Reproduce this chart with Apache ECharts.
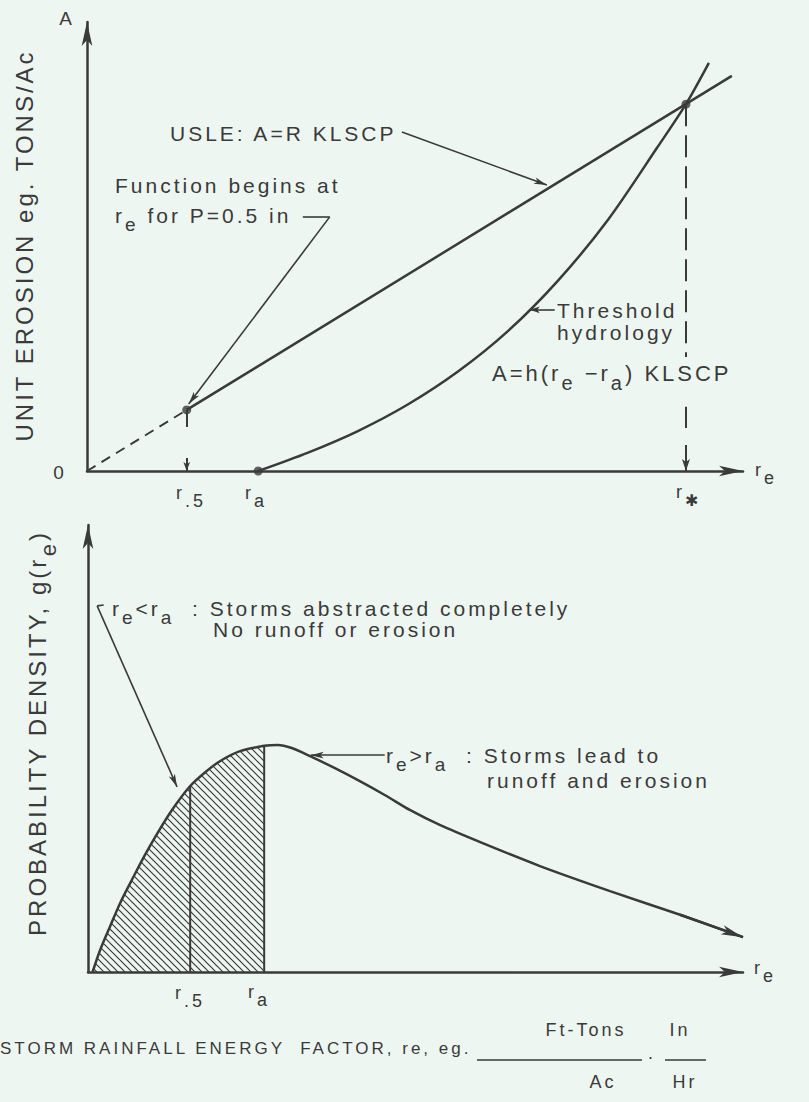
<!DOCTYPE html>
<html>
<head>
<meta charset="utf-8">
<script src="https://cdn.jsdelivr.net/npm/echarts@6/dist/echarts.min.js"></script>
<style>
  html, body { margin:0; padding:0; background:#eef6f2; }
  #main { width:809px; height:1102px; }
  #main text { letter-spacing: 3px; white-space: pre; }
</style>
</head>
<body>
<div id="main"></div>
<script>
// ---------------- values ----------------
// Both panels use a schematic r_e scale (0 = origin, 100 = arrow tip)
// and a schematic vertical scale (0 = axis, 100 = arrow tip).

// Upper panel: USLE straight line (dashed below r.5, solid above)
const usleX = [0, 15.2, 98.3];
const usleY = [0, 13.6, 88.0];
// Upper panel: threshold-hydrology curve A = h(re - ra) KLSCP
const thresholdX = [26.1, 33.7, 41.3, 48.9, 56.6, 64.2, 71.8, 79.4, 87.0, 91.3, 94.8];
const thresholdY = [0, 4.1, 8.9, 14.8, 22.2, 31.2, 42.4, 55.9, 72.2, 81.7, 90.9];
// Upper panel: special r_e values (r.5, ra, r*)
const topR = { half: 15.2, a: 26.1, star: 91.3 };
// Upper panel: annotation leaders / guides (data units)
const topUsleLeader   = [[48.0, 75.5], [70.1, 63.7]];
const topFuncLeader   = [[32.9, 56.6], [37.0, 56.6], [15.5, 14.9]];
const topThreshLeader = [[71.3, 35.9], [67.5, 35.9]];
const topHalfStem     = [[15.2, 13.6], [15.2, 9.8]];
const topHalfArrow    = [[15.2, 2.9], [15.2, 0]];
const topStarUpper    = [[91.3, 81.7], [91.3, 25.4]];
const topStarLower    = [[91.3, 14.3], [91.3, 9.6]];
const topStarArrow    = [[91.3, 5.8], [91.3, 0]];

// Lower panel: probability density g(r_e)
const densityX = [0.7, 1.8, 3.4, 4.9, 6.7, 8.7, 10.7, 12.8, 15.6, 17.9, 20.2, 23.2, 26.9, 29.0, 31.1, 33.9, 37.7, 41.5, 45.3, 49.2, 53.7, 59.8, 69.0, 79.7, 90.4, 100];
const densityY = [0, 4.7, 10.3, 15.4, 20.6, 26.2, 31.3, 36.2, 41.6, 44.7, 47.2, 49.4, 50.6, 50.8, 50.1, 48.3, 45.6, 42.7, 39.6, 36.2, 32.9, 29.1, 23.7, 18.1, 12.8, 7.8];
// Lower panel: special r_e values (r.5, ra)
const lowR = { half: 15.6, a: 26.9 };
// Lower panel: annotation leaders (data units)
const lowBelowLeader = [[2.4, 82.1], [1.4, 81.9], [13.6, 41.4]];
const lowAboveLeader = [[45.3, 48.5], [34.0, 48.5]];
const lowTailArrow   = [[90.4, 12.8], [100, 7.8]];

// ---------------- styling ----------------
const INK = '#3a3a3a';
const BG = '#eef6f2';
const FONT = "'Liberation Sans', Arial, Helvetica, sans-serif";
const LS = 3; // letter spacing applied to svg text by CSS

function pts(xs, ys) { return xs.map((x, i) => [x, ys[i]]); }
const densityPts = pts(densityX, densityY);
const gAt = x => densityY[densityX.indexOf(x)];
const topDots = [
  [usleX[1], usleY[1]],
  [topR.a, 0],
  [topR.star, thresholdY[thresholdX.indexOf(topR.star)]]
];

function hatchTile() {
  const c = document.createElement('canvas');
  c.width = 7; c.height = 7;
  const g = c.getContext('2d');
  g.strokeStyle = INK; g.lineWidth = 1.2;
  [-7, 0, 7].forEach(k => { g.beginPath(); g.moveTo(k - 1, -1); g.lineTo(k + 8, 8); g.stroke(); });
  return c;
}

function seg(a, b, o) {
  o = o || {};
  return [
    { coord: a, symbol: 'none', lineStyle: { color: INK, width: o.w || 1.6, type: o.dash || 'solid' } },
    { coord: b, symbol: o.head ? 'arrow' : 'none', symbolSize: o.head || 0 }
  ];
}
function poly(points, o) {
  const out = [];
  for (let i = 0; i < points.length - 1; i++) {
    const last = i === points.length - 2;
    out.push(seg(points[i], points[i + 1], last ? o : Object.assign({}, o, { head: null })));
  }
  return out;
}
function markLines(list) {
  return {
    silent: true, animation: false, symbol: ['none', 'none'],
    label: { show: false }, emphasis: { disabled: true },
    lineStyle: { color: INK, type: 'solid', width: 1.6 },
    itemStyle: { color: INK },
    data: list
  };
}

// parts: [text, isSubscript, fontSize, fontFamily]
function label(x, y, parts, size, o) {
  o = o || {};
  const rich = {}; let text = '';
  parts.forEach((p, i) => {
    const n = Array.from(p[0]).length;
    const fs = p[2] || (p[1] ? Math.round(size * 0.9) : size);
    rich['t' + i] = {
      fontSize: fs, fontFamily: p[3] || FONT, fill: INK, align: 'left',
      padding: [p[1] ? Math.round(size * 0.9) : 0, n * LS, 0, 0]
    };
    text += '{t' + i + '|' + p[0] + '}';
  });
  const al = o.align || 'left';
  return {
    type: 'text', x: x, y: y, rotation: o.rot || 0, silent: true, z: 100,
    style: { text: text, rich: rich, fontSize: size, fontFamily: FONT, fill: INK,
             align: al, textAlign: al, verticalAlign: 'middle', textVerticalAlign: 'middle' }
  };
}
function bar(x1, x2, y) {
  return { type: 'line', silent: true, shape: { x1: x1, y1: y, x2: x2, y2: y }, style: { stroke: INK, lineWidth: 1.6 } };
}

const axisLine = { show: true, onZero: true, symbol: ['none', 'arrow'], symbolSize: [8, 24],
                   lineStyle: { color: INK, width: 2.5 } };
function axes() {
  return [0, 1].map(g => ({
    gridIndex: g, type: 'value', min: 0, max: 100,
    axisLine: axisLine, axisTick: { show: false }, axisLabel: { show: false }, splitLine: { show: false }
  }));
}

const series = [
  { type: 'line', name: 'USLE extrapolated', xAxisIndex: 0, yAxisIndex: 0, silent: true, symbol: 'none',
    data: pts(usleX.slice(0, 2), usleY.slice(0, 2)), lineStyle: { color: INK, width: 2, type: [10, 7] } },
  { type: 'line', name: 'USLE', xAxisIndex: 0, yAxisIndex: 0, silent: true, symbol: 'none',
    data: pts(usleX.slice(1), usleY.slice(1)), lineStyle: { color: INK, width: 2.5 },
    markLine: markLines([
      seg(topUsleLeader[0], topUsleLeader[1], { head: [5, 13] }),
      ...poly(topFuncLeader, { head: [5, 13] }),
      seg(topThreshLeader[0], topThreshLeader[1], { head: [5, 10] }),
      seg(topHalfStem[0], topHalfStem[1], { w: 2 }),
      seg(topHalfArrow[0], topHalfArrow[1], { w: 2, head: [5, 9] }),
      seg(topStarUpper[0], topStarUpper[1], { w: 2, dash: [22, 9] }),
      seg(topStarLower[0], topStarLower[1], { w: 2 }),
      seg(topStarArrow[0], topStarArrow[1], { w: 2, head: [6, 12] })
    ]) },
  { type: 'line', name: 'Threshold hydrology', xAxisIndex: 0, yAxisIndex: 0, silent: true, symbol: 'none',
    smooth: 0.3, data: pts(thresholdX, thresholdY), lineStyle: { color: INK, width: 2.5 } },
  { type: 'scatter', name: 'points', xAxisIndex: 0, yAxisIndex: 0, silent: true,
    data: topDots, symbolSize: 9, itemStyle: { color: INK } },

  { type: 'line', name: 'abstracted storms', xAxisIndex: 1, yAxisIndex: 1, silent: true, symbol: 'none',
    smooth: 0.3, data: densityPts.filter(p => p[0] <= lowR.a),
    lineStyle: { opacity: 0 }, areaStyle: { color: { image: hatchTile(), repeat: 'repeat' }, opacity: 1 } },
  { type: 'line', name: 'g(re)', xAxisIndex: 1, yAxisIndex: 1, silent: true, symbol: 'none',
    smooth: 0.3, data: densityPts, lineStyle: { color: INK, width: 2.5 },
    markLine: markLines([
      ...poly(lowBelowLeader, { head: [5, 13] }),
      seg(lowAboveLeader[0], lowAboveLeader[1], { head: [5, 13] }),
      seg(lowTailArrow[0], lowTailArrow[1], { w: 2.5, head: [7, 22] })
    ]) },
  { type: 'line', name: 'r.5 line', xAxisIndex: 1, yAxisIndex: 1, silent: true, symbol: 'none',
    data: [[lowR.half, 0], [lowR.half, gAt(lowR.half)]], lineStyle: { color: INK, width: 2 } },
  { type: 'line', name: 'ra line', xAxisIndex: 1, yAxisIndex: 1, silent: true, symbol: 'none',
    data: [[lowR.a, 0], [lowR.a, gAt(lowR.a)]], lineStyle: { color: INK, width: 2 } }
];

const graphic = [
  label(67, 18, [['A']], 19, { align: 'center' }),
  label(60, 472, [['0']], 19, { align: 'center' }),
  label(24, 245, [['UNIT EROSION eg. TONS/Ac']], 24, { align: 'center', rot: Math.PI / 2 }),
  label(170, 133, [['USLE: A=R KLSCP']], 21),
  label(115, 185, [['Function begins at']], 21),
  label(115, 215, [['r'], ['e', 1], [' for P=0.5 in']], 21),
  label(557, 310, [['Threshold']], 21),
  label(557, 332, [['hydrology']], 21),
  label(492, 373, [['A=h(r'], ['e', 1], [' \u2212r'], ['a', 1], [') KLSCP']], 22),
  label(176, 493, [['r'], ['.5', 1, 18]], 18),
  label(245, 493, [['r'], ['a', 1, 18]], 18),
  label(676, 492, [['r'], ['\u2731', 1, 16, "'DejaVu Sans'"]], 18),
  label(755, 470, [['r'], ['e', 1, 18]], 18),

  label(37, 733, [['PROBABILITY DENSITY, g(r'], ['e', 1], [')']], 24, { align: 'center', rot: Math.PI / 2 }),
  label(112, 608, [['r'], ['e', 1], ['<r'], ['a', 1], ['  : Storms abstracted completely']], 21),
  label(213, 629, [['No runoff or erosion']], 21),
  label(386, 755, [['r'], ['e', 1], ['>r'], ['a', 1], ['  : Storms lead to']], 21),
  label(487, 780, [['runoff and erosion']], 21),
  label(175, 993, [['r'], ['.5', 1, 18]], 18),
  label(248, 992, [['r'], ['a', 1, 18]], 18),
  label(754, 968, [['r'], ['e', 1, 18]], 18),

  label(0, 1048, [['STORM RAINFALL ENERGY  FACTOR, re, eg.']], 17),
  label(586, 1030, [['Ft-Tons']], 18, { align: 'center' }),
  label(603, 1082, [['Ac']], 18, { align: 'center' }),
  label(652, 1057, [['\u00b7']], 18, { align: 'center' }),
  label(680, 1030, [['In']], 18, { align: 'center' }),
  label(685, 1082, [['Hr']], 18, { align: 'center' }),
  bar(477, 642, 1060),
  bar(665, 706, 1060)
];

const chart = echarts.init(document.getElementById('main'), null, { renderer: 'svg' });
chart.setOption({
  animation: false,
  backgroundColor: BG,
  grid: [
    { left: 87, top: 22, width: 656, height: 449 },
    { left: 88, top: 525, width: 655, height: 447 }
  ],
  xAxis: axes(),
  yAxis: axes(),
  series: series,
  graphic: graphic
});
</script>
</body>
</html>
